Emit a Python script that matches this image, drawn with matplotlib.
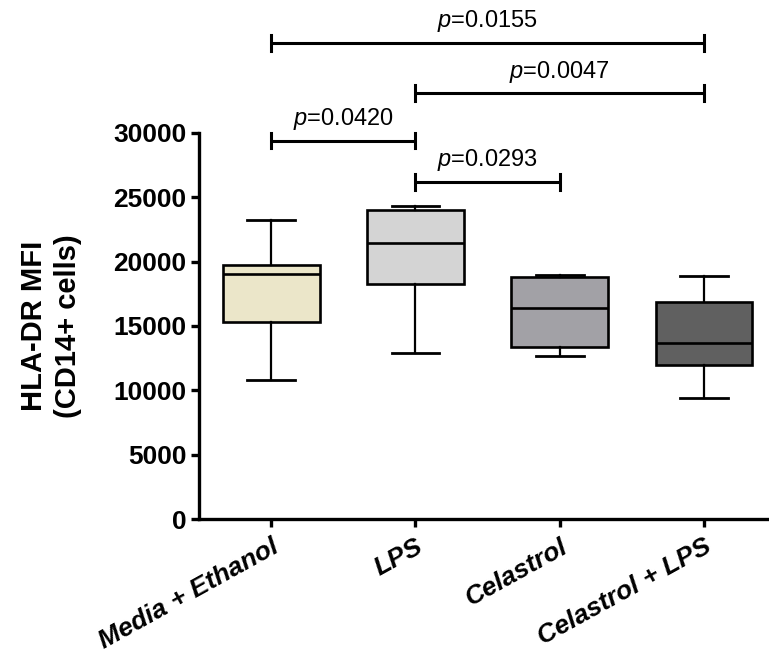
import matplotlib
matplotlib.use("Agg")
import matplotlib.pyplot as plt

plt.rcParams['font.family'] = ['Liberation Sans', 'DejaVu Sans']
plt.rcParams['mathtext.fontset'] = 'custom'
plt.rcParams['mathtext.it'] = 'Liberation Sans:italic'
plt.rcParams['mathtext.rm'] = 'Liberation Sans'

groups = ["Media + Ethanol", "LPS", "Celastrol", "Celastrol + LPS"]
whis_low = [10800, 12900, 12650, 9400]
q1 = [15300, 18250, 13400, 12000]
median = [19000, 21450, 16400, 13650]
q3 = [19700, 24000, 18800, 16850]
whis_high = [23200, 24300, 18950, 18850]
box_colors = ["#ebe6c9", "#d4d4d4", "#a2a1a6", "#606060"]

# significance brackets: (group a, group b, bracket level, p value)
pairs = [(1, 2), (2, 3), (2, 4), (1, 4)]
levels = [29400, 26200, 33100, 37000]
p_values = ["0.0420", "0.0293", "0.0047", "0.0155"]

fig = plt.figure(figsize=(7.69, 6.57), dpi=100)
ax = fig.add_axes([0.2588, 0.21, 0.7412, 0.7836])

stats = []
for i in range(len(groups)):
    stats.append(dict(whislo=whis_low[i], q1=q1[i], med=median[i],
                      q3=q3[i], whishi=whis_high[i], fliers=[]))

bp = ax.bxp(stats, positions=range(1, 5), widths=0.67, patch_artist=True,
            showfliers=False,
            boxprops=dict(linewidth=1.9, edgecolor='black'),
            medianprops=dict(color='black', linewidth=1.9),
            whiskerprops=dict(color='black', linewidth=1.6),
            capprops=dict(color='black', linewidth=2.0),
            capwidths=0.33)
for patch, c in zip(bp['boxes'], box_colors):
    patch.set_facecolor(c)

# brackets
tick_h = 600
for (a, b), lev, p in zip(pairs, levels, p_values):
    ax.plot([a, b], [lev, lev], color='black', lw=2.2, solid_capstyle='butt')
    ax.plot([a, a], [lev - tick_h, lev + tick_h], color='black', lw=2.2)
    ax.plot([b, b], [lev - tick_h, lev + tick_h], color='black', lw=2.2)
    ax.annotate("$p$=" + p, xy=((a + b) / 2, lev), xytext=(0, 6),
                textcoords='offset points', ha='center', va='bottom',
                fontsize=17)

ax.set_xlim(0.5, 4.45)
ax.set_ylim(0, 40000)
ax.set_yticks([0, 5000, 10000, 15000, 20000, 25000, 30000])
ax.set_xticks(range(1, 5))
ax.set_xticklabels(groups, rotation=29, ha='right', rotation_mode='anchor',
                   fontsize=19, fontweight='bold', fontstyle='italic')
for lab in ax.get_yticklabels():
    lab.set_fontsize(19)
    lab.set_fontweight('bold')

ax.spines['top'].set_visible(False)
ax.spines['right'].set_visible(False)
ax.spines['left'].set_bounds(0, 30000)
ax.spines['left'].set_linewidth(2.4)
ax.spines['bottom'].set_linewidth(2.4)
ax.tick_params(axis='both', width=2.4, length=6, direction='out')
ax.tick_params(axis='x', pad=5)
ax.tick_params(axis='y', pad=3)

ax.set_ylabel("HLA-DR MFI\n(CD14+ cells)", fontsize=21, fontweight='bold',
              linespacing=1.3)
ax.yaxis.set_label_coords(-0.205, 0.375)

fig.savefig("out.png", dpi=100)
